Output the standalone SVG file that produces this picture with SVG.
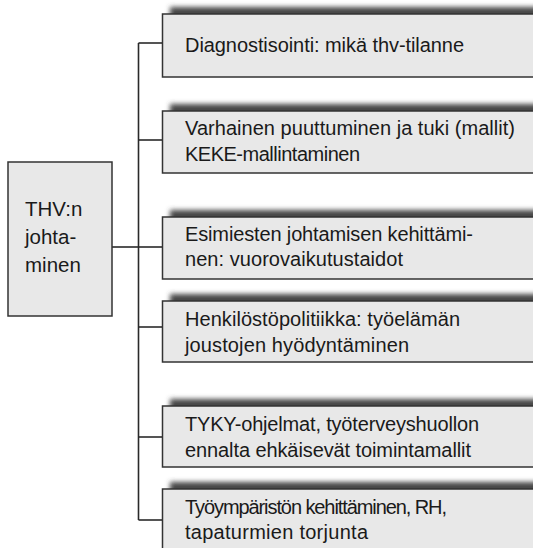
<svg xmlns="http://www.w3.org/2000/svg" width="533" height="548" viewBox="0 0 533 548">
  <style>
    .box { fill: #e8e8e8; stroke: #333333; stroke-width: 1.5; }
    .shadow { fill: #474747; filter: url(#soft); }
    .lbl { font-family: "Liberation Sans", Arial, sans-serif; font-size: 20px; fill: #1a1a1a; }
    .root { font-family: "Liberation Sans", Arial, sans-serif; font-size: 20.5px; fill: #1a1a1a; }
    .wire { fill: none; stroke: #2a2a2a; stroke-width: 1.6; }
  </style>
  <defs>
    <filter id="soft" x="-5%" y="-40%" width="110%" height="180%">
      <feGaussianBlur stdDeviation="2.6"/>
    </filter>
  </defs>
  <rect width="533" height="548" fill="#ffffff"/>

  <!-- connectors -->
  <g id="connectors">
    <path class="wire" d="M112 247 H138.5"/>
    <path class="wire" d="M138.5 43 V520"/>
    <path class="wire" d="M138.5 43 H162.5"/>
    <path class="wire" d="M138.5 140 H162.5"/>
    <path class="wire" d="M138.5 247 H162.5"/>
    <path class="wire" d="M138.5 327 H162.5"/>
    <path class="wire" d="M138.5 437 H162.5"/>
    <path class="wire" d="M138.5 520 H162.5"/>
  </g>

  <!-- root node -->
  <g id="thv-johtaminen">
    <rect class="box" x="8" y="162" width="104" height="154"/>
    <text class="root" x="25" y="216">THV:n</text>
    <text class="root" x="25" y="244">johta-</text>
    <text class="root" x="25" y="272">minen</text>
  </g>

  <g id="diagnostisointi">
    <rect class="shadow" x="170" y="7" width="400" height="60"/>
    <rect class="box" x="162.5" y="14" width="400" height="63"/>
    <text class="lbl" x="185" y="52" textLength="279">Diagnostisointi: mikä thv-tilanne</text>
  </g>

  <g id="varhainen-puuttuminen">
    <rect class="shadow" x="170" y="104" width="400" height="60"/>
    <rect class="box" x="162.5" y="111" width="400" height="62"/>
    <text class="lbl" x="185" y="134.5" textLength="330">Varhainen puuttuminen ja tuki (mallit)</text>
    <text class="lbl" x="185" y="160.5" textLength="175">KEKE-mallintaminen</text>
  </g>

  <g id="esimiesten-johtaminen">
    <rect class="shadow" x="170" y="210" width="400" height="60"/>
    <rect class="box" x="162.5" y="217" width="400" height="62"/>
    <text class="lbl" x="185" y="241" textLength="288">Esimiesten johtamisen kehittämi-</text>
    <text class="lbl" x="185" y="266" textLength="218">nen: vuorovaikutustaidot</text>
  </g>

  <g id="henkilostopolitiikka">
    <rect class="shadow" x="170" y="294" width="400" height="60"/>
    <rect class="box" x="162.5" y="301" width="400" height="61"/>
    <text class="lbl" x="185" y="326" textLength="275">Henkilöstöpolitiikka: työelämän</text>
    <text class="lbl" x="185" y="352" textLength="224">joustojen hyödyntäminen</text>
  </g>

  <g id="tyky-ohjelmat">
    <rect class="shadow" x="170" y="399" width="400" height="60"/>
    <rect class="box" x="162.5" y="406" width="400" height="61"/>
    <text class="lbl" x="185" y="430.5" textLength="294">TYKY-ohjelmat, työterveyshuollon</text>
    <text class="lbl" x="185" y="456.5" textLength="286">ennalta ehkäisevät toimintamallit</text>
  </g>

  <g id="tyoympariston-kehittaminen">
    <rect class="shadow" x="170" y="482" width="400" height="80"/>
    <rect class="box" x="162.5" y="489" width="400" height="80"/>
    <text class="lbl" x="185" y="514" textLength="262">Työympäristön kehittäminen, RH,</text>
    <text class="lbl" x="185" y="539" textLength="183">tapaturmien torjunta</text>
  </g>
</svg>
